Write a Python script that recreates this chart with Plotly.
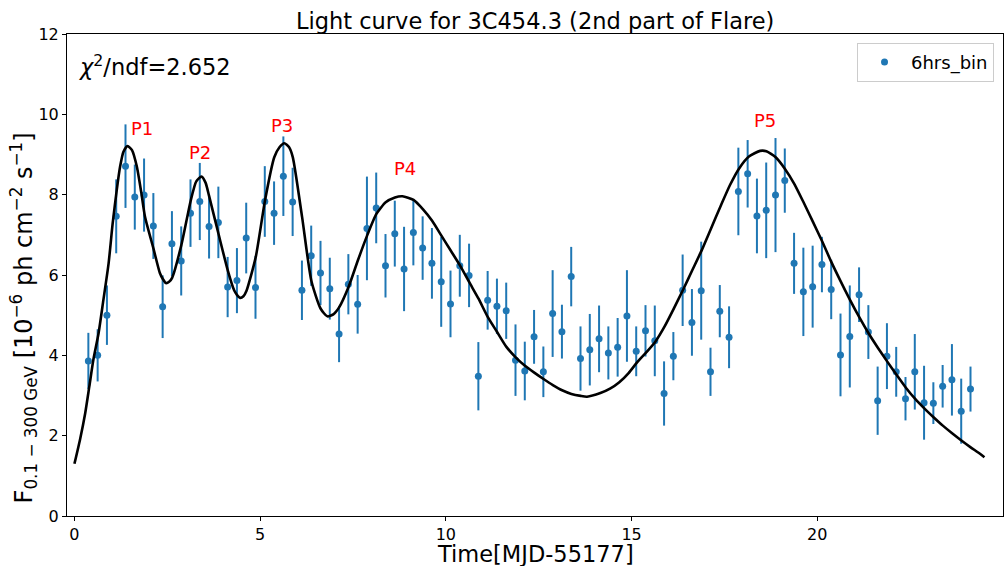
import plotly.graph_objects as go

# ---- data ----
time_mjd = [0.375, 0.625, 0.875, 1.125, 1.375, 1.625, 1.875, 2.125, 2.375, 2.625,
            2.875, 3.125, 3.375, 3.625, 3.875, 4.125, 4.375, 4.625, 4.875, 5.125,
            5.375, 5.625, 5.875, 6.125, 6.375, 6.625, 6.875, 7.125, 7.375, 7.625,
            7.875, 8.125, 8.375, 8.625, 8.875, 9.125, 9.375, 9.625, 9.875, 10.125,
            10.375, 10.625, 10.875, 11.125, 11.375, 11.625, 11.875, 12.125, 12.375, 12.625,
            12.875, 13.125, 13.375, 13.625, 13.875, 14.125, 14.375, 14.625, 14.875, 15.125,
            15.375, 15.625, 15.875, 16.125, 16.375, 16.625, 16.875, 17.125, 17.375, 17.625,
            17.875, 18.125, 18.375, 18.625, 18.875, 19.125, 19.375, 19.625, 19.875, 20.125,
            20.375, 20.625, 20.875, 21.125, 21.375, 21.625, 21.875, 22.125, 22.375, 22.625,
            22.875, 23.125, 23.375, 23.625, 23.875, 24.125]

flux = [3.86, 4.00, 5.00, 7.46, 8.71, 7.94, 7.99, 7.22, 5.21, 6.78,
        6.35, 7.54, 7.83, 7.21, 7.31, 5.70, 5.86, 6.92, 5.69, 7.83,
        7.54, 8.46, 7.82, 5.62, 6.48, 6.05, 5.66, 4.53, 5.77, 5.27,
        7.16, 7.67, 6.23, 7.03, 6.15, 7.06, 6.67, 6.29, 5.83, 5.28,
        6.23, 5.99, 3.48, 5.37, 5.22, 5.11, 3.88, 3.61, 4.46, 3.59,
        5.04, 4.59, 5.96, 3.92, 4.14, 4.41, 4.06, 4.20, 4.98, 4.10,
        4.61, 4.36, 3.05, 3.98, 5.62, 4.82, 5.61, 3.59, 5.10, 4.45,
        8.08, 8.52, 7.47, 7.61, 7.99, 8.35, 6.29, 5.58, 5.71, 6.26,
        5.64, 4.01, 4.47, 5.51, 4.58, 2.87, 3.98, 3.59, 2.92, 3.59,
        2.82, 2.81, 3.23, 3.39, 2.61, 3.16]

flux_err = [0.70, 0.65, 0.74, 0.92, 1.04, 0.81, 0.91, 0.82, 0.78, 0.81,
            0.86, 0.84, 0.96, 0.80, 0.89, 0.75, 0.81, 0.88, 0.78, 0.88,
            0.79, 0.99, 0.85, 0.74, 0.75, 0.80, 0.77, 0.70, 0.75, 0.73,
            1.29, 0.88, 0.79, 0.82, 1.05, 0.82, 0.79, 0.88, 1.12, 0.83,
            0.77, 0.79, 0.85, 0.73, 0.69, 0.70, 0.89, 0.73, 0.67, 0.63,
            1.08, 0.67, 0.74, 0.80, 0.89, 0.83, 0.66, 0.73, 1.14, 0.62,
            0.64, 0.88, 0.80, 0.60, 0.89, 0.83, 1.22, 0.60, 0.65, 0.77,
            1.09, 0.84, 0.93, 1.19, 1.42, 0.80, 0.76, 1.10, 1.02, 0.69,
            0.74, 1.03, 1.27, 0.68, 0.67, 0.85, 0.82, 0.62, 0.54, 0.94,
            0.92, 0.52, 0.53, 0.89, 0.81, 0.56]

fit_time = [0.00, 0.15, 0.29, 0.40, 0.51, 0.65, 0.78, 0.92, 1.03, 1.14,
            1.23, 1.32, 1.43, 1.55, 1.68, 1.80, 1.90, 2.13, 2.30, 2.38,
            2.46, 2.55, 2.63, 2.88, 3.13, 3.28, 3.42, 3.53, 3.63, 3.88,
            4.13, 4.30, 4.38, 4.46, 4.55, 4.63, 4.88, 5.13, 5.38, 5.52,
            5.65, 5.78, 5.88, 6.13, 6.38, 6.63, 6.81, 6.97, 7.13, 7.38,
            7.63, 7.88, 8.13, 8.38, 8.63, 8.83, 9.13, 9.38, 9.63, 9.88,
            10.13, 10.38, 10.63, 10.88, 11.13, 11.38, 11.63, 11.88, 12.13, 12.38,
            12.63, 12.88, 13.13, 13.38, 13.63, 13.80, 14.16, 14.42, 14.67, 14.92,
            15.17, 15.42, 15.64, 15.89, 16.14, 16.39, 16.64, 16.89, 17.14, 17.39,
            17.65, 17.90, 18.16, 18.46, 18.63, 18.88, 19.13, 19.38, 19.63, 19.88,
            20.13, 20.38, 20.63, 20.88, 21.13, 21.38, 21.63, 21.88, 22.13, 22.38,
            22.63, 22.88, 23.13, 23.38, 23.63, 23.88, 24.13, 24.38, 24.50]

fit_flux = [1.30, 1.90, 2.56, 3.22, 3.89, 4.55, 5.38, 6.29, 7.29, 8.12,
            8.70, 9.07, 9.21, 9.11, 8.70, 8.05, 7.45, 6.65, 6.05, 5.90,
            5.80, 5.83, 5.93, 6.75, 7.85, 8.33, 8.45, 8.30, 7.95, 7.02,
            6.11, 5.62, 5.50, 5.43, 5.47, 5.60, 6.44, 7.85, 8.93, 9.18,
            9.28, 9.18, 8.93, 7.44, 5.85, 5.16, 4.97, 5.02, 5.20, 5.70,
            6.36, 6.98, 7.52, 7.81, 7.93, 7.96, 7.87, 7.64, 7.35, 6.98,
            6.61, 6.24, 5.82, 5.41, 4.95, 4.58, 4.21, 3.95, 3.74, 3.57,
            3.41, 3.26, 3.13, 3.04, 2.99, 2.97, 3.06, 3.17, 3.33, 3.56,
            3.85, 4.10, 4.34, 4.72, 5.17, 5.64, 6.13, 6.62, 7.16, 7.70,
            8.24, 8.66, 8.95, 9.09, 9.08, 8.93, 8.64, 8.27, 7.81, 7.33,
            6.84, 6.32, 5.84, 5.38, 4.95, 4.55, 4.19, 3.85, 3.52, 3.20,
            2.92, 2.68, 2.46, 2.25, 2.06, 1.88, 1.71, 1.55, 1.46]

peak_labels = ["P1", "P2", "P3", "P4", "P5"]
peak_label_x = [1.47, 3.04, 5.24, 8.55, 18.25]
peak_label_y = [9.65, 9.04, 9.73, 8.66, 9.84]

x_ticks = [0, 5, 10, 15, 20]
y_ticks = [0, 2, 4, 6, 8, 10, 12]

FONT = "DejaVu Sans"
BLUE = "#1f77b4"

fig = go.Figure()

fig.add_trace(go.Scatter(
    x=time_mjd, y=flux, mode="markers", name="6hrs_bin",
    marker=dict(color=BLUE, size=7),
    error_y=dict(type="data", array=flux_err, visible=True,
                 color=BLUE, thickness=2, width=0),
))

fig.add_trace(go.Scatter(
    x=fit_time, y=fit_flux, mode="lines", showlegend=False,
    line=dict(color="black", width=2.6, shape="spline", smoothing=0.6),
    hoverinfo="skip",
))

annotations = []
for lab, lx, ly in zip(peak_labels, peak_label_x, peak_label_y):
    annotations.append(dict(
        x=lx, y=ly, xref="x", yref="y", text=lab, showarrow=False,
        xanchor="left", yanchor="middle",
        font=dict(family=FONT, size=18, color="red"),
    ))

annotations.append(dict(
    x=0.0105, y=0.935, xref="paper", yref="paper",
    text="<i>χ</i><sup>2</sup>/ndf=2.652", showarrow=False,
    xanchor="left", yanchor="middle",
    font=dict(family=FONT, size=22.5, color="black"),
))

annotations.append(dict(
    x=0.5, y=-0.0785, xref="paper", yref="paper",
    text="Time[MJD-55177]", showarrow=False, borderpad=0,
    xanchor="center", yanchor="middle",
    font=dict(family=FONT, size=22.5, color="black"),
))

annotations.append(dict(
    x=-0.047, y=0.41, xref="paper", yref="paper",
    text="F<sub>0.1 − 300 GeV</sub> [10<sup>−6</sup> ph cm<sup>−2</sup> s<sup>−1</sup>]",
    showarrow=False, textangle=-90,
    xanchor="center", yanchor="middle",
    font=dict(family=FONT, size=24, color="black"),
))

axis_common = dict(
    showgrid=False, zeroline=False, showline=True, mirror=True,
    linecolor="black", linewidth=1, ticks="outside", ticklen=4,
    tickwidth=1, tickcolor="black",
    tickfont=dict(family=FONT, size=16, color="black"),
)

fig.update_layout(
    width=1005, height=566,
    margin=dict(l=67, r=2, t=34, b=50),
    paper_bgcolor="white", plot_bgcolor="white",
    font=dict(family=FONT, color="black"),
    title=dict(text="Light curve for 3C454.3 (2nd part of Flare)",
               x=0.5325, xanchor="center", xref="container",
               y=0.963, yanchor="middle", yref="container",
               font=dict(family=FONT, size=22.5, color="black")),
    xaxis=dict(range=[-0.2, 25], tickvals=x_ticks, **axis_common),
    yaxis=dict(range=[0, 12], tickvals=y_ticks, **axis_common),
    legend=dict(x=0.9904, y=0.982, xanchor="right", yanchor="top",
                bgcolor="white", bordercolor="#cccccc", borderwidth=1,
                itemwidth=43,
                font=dict(family=FONT, size=18, color="black")),
    annotations=annotations,
)

fig.write_html("out.html")
